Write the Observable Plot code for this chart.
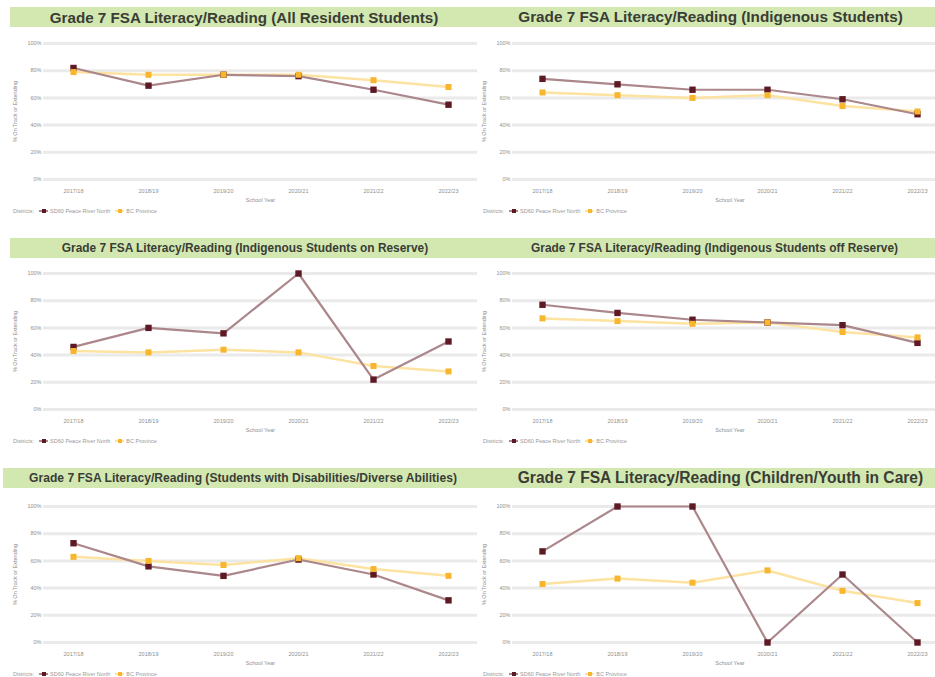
<!DOCTYPE html>
<html><head><meta charset="utf-8">
<script src="https://cdn.jsdelivr.net/npm/d3@7"></script>
<script src="https://cdn.jsdelivr.net/npm/@observablehq/plot@0.6"></script>
<style>
html,body{margin:0;padding:0;background:#fff}
body{width:935px;height:677px;overflow:hidden;position:relative;font-family:"Liberation Sans",Arial,sans-serif}
.bar{position:absolute;height:20px;background:#d3e8b1;display:flex;align-items:center;justify-content:center;font-weight:bold;color:#3a3d36;white-space:nowrap;box-sizing:border-box}
.chart{position:absolute}
.legend{position:absolute;font-size:5.5px;color:#999;white-space:nowrap;display:flex;align-items:center;gap:2px}
.sym{display:inline-block;position:relative;width:9px;height:6px;margin-left:3px}
.sym .ln{position:absolute;left:0;right:0;top:2px;height:2px}
.sym .sq{position:absolute;left:2.5px;top:1px;width:4px;height:4px}
</style>
</head><body>
<script>
const years = ["2017/18","2018/19","2019/20","2020/21","2021/22","2022/23"];
const yTicks = [0,20,40,60,80,100];

const titles = [
  "Grade 7 FSA Literacy/Reading (All Resident Students)",
  "Grade 7 FSA Literacy/Reading (Indigenous Students)",
  "Grade 7 FSA Literacy/Reading (Indigenous Students on Reserve)",
  "Grade 7 FSA Literacy/Reading (Indigenous Students off Reserve)",
  "Grade 7 FSA Literacy/Reading (Students with Disabilities/Diverse Abilities)",
  "Grade 7 FSA Literacy/Reading (Children/Youth in Care)"
];

const allDistrict    = [82, 69, 77, 76, 66, 55];
const allProvince    = [79, 77, 77, 77, 73, 68];
const indDistrict    = [74, 70, 66, 66, 59, 48];
const indProvince    = [64, 62, 60, 62, 54, 50];
const onResDistrict  = [46, 60, 56, 100, 22, 50];
const onResProvince  = [43, 42, 44, 42, 32, 28];
const offResDistrict = [77, 71, 66, 64, 62, 49];
const offResProvince = [67, 65, 63, 64, 57, 53];
const disDistrict    = [73, 56, 49, 61, 50, 31];
const disProvince    = [63, 60, 57, 62, 54, 49];
const careDistrict   = [67, 100, 100, 0, 50, 0];
const careProvince   = [43, 47, 44, 53, 38, 29];

const seriesNames = ["SD60 Peace River North", "BC Province"];
const legendLead = "Districts:";
const xLabel = "School Year";
const yLabel = "% On Track or Extending";

const districtLine = "#ab878b", districtDot = "#5e1a24";
const provinceLine = "#fde3a2", provinceDot = "#f8b52e";

const panels = [
  {d: allDistrict,    p: allProvince,    col: 0, row: 0, fs: 15.2, pad: 8},
  {d: indDistrict,    p: indProvince,    col: 1, row: 0, fs: 15.3, pad: 16},
  {d: onResDistrict,  p: onResProvince,  col: 0, row: 1, fs: 11.9, pad: 10},
  {d: offResDistrict, p: offResProvince, col: 1, row: 1, fs: 11.9, pad: 24},
  {d: disDistrict,    p: disProvince,    col: 0, row: 2, fs: 12.1, pad: 13},
  {d: careDistrict,   p: careProvince,   col: 1, row: 2, fs: 15.6, pad: 36}
];

// layout (page geometry only)
const rowBarTop = [7, 238, 468];
const rowPlotTop = [29, 259, 492];
const colBar = [[10, 460], [470, 465]];
const colBarRow3Left = [3, 467];
const colSvgLeft = [0, 470];
const colMarginLeft = [43, 42];

panels.forEach((pn, i) => {
  const bar = document.createElement("div");
  bar.className = "bar";
  const [bx, bw] = (pn.row === 2 && pn.col === 0) ? colBarRow3Left : colBar[pn.col];
  bar.style.left = bx + "px";
  bar.style.width = bw + "px";
  bar.style.top = rowBarTop[pn.row] + "px";
  bar.style.fontSize = pn.fs + "px";
  bar.style.paddingLeft = pn.pad + "px";
  bar.textContent = titles[i];
  document.body.appendChild(bar);

  const rows = years.map((y, k) => ({year: y, value: pn.d[k], series: seriesNames[0]}));
  const prow = years.map((y, k) => ({year: y, value: pn.p[k], series: seriesNames[1]}));

  const chart = Plot.plot({
    width: 477,
    height: 180,
    marginTop: 14,
    marginBottom: 30,
    marginLeft: colMarginLeft[pn.col],
    marginRight: 0,
    style: {fontFamily: "'Liberation Sans', Arial, sans-serif", fontSize: "5.5px", color: "#8f8f8f", background: "transparent", overflow: "visible"},
    x: {type: "point", domain: years, padding: 0.38},
    y: {domain: [0, 100]},
    marks: [
      Plot.ruleY(yTicks, {stroke: "#eaeaea", strokeWidth: 3}),
      Plot.axisY({ticks: yTicks, tickSize: 0, tickPadding: 2, tickFormat: d => d + "%", label: yLabel, labelAnchor: "center", labelArrow: "none", labelOffset: 30}),
      Plot.axisX({tickSize: 0, tickPadding: 10, label: xLabel, labelAnchor: "center", labelArrow: "none", labelOffset: 22}),
      Plot.line(prow, {x: "year", y: "value", stroke: provinceLine, strokeWidth: 2.5}),
      Plot.line(rows, {x: "year", y: "value", stroke: districtLine, strokeWidth: 2.2}),
      Plot.dot(rows, {x: "year", y: "value", symbol: "square", r: 3.6, fill: districtDot, stroke: "none"}),
      Plot.dot(prow, {x: "year", y: "value", symbol: "square", r: 3.4, fill: provinceDot, stroke: "none"})
    ]
  });
  chart.classList.add("chart");
  chart.style.left = colSvgLeft[pn.col] + "px";
  chart.style.top = rowPlotTop[pn.row] + "px";
  document.body.appendChild(chart);

  const lg = document.createElement("div");
  lg.className = "legend";
  lg.style.left = (colSvgLeft[pn.col] + 13) + "px";
  lg.style.top = (rowPlotTop[pn.row] + 179) + "px";
  lg.innerHTML = `<span>${legendLead}</span>` +
    `<span class="sym"><span class="ln" style="background:${districtLine}"></span><span class="sq" style="background:${districtDot}"></span></span><span>${seriesNames[0]}</span>` +
    `<span class="sym"><span class="ln" style="background:${provinceLine}"></span><span class="sq" style="background:${provinceDot}"></span></span><span>${seriesNames[1]}</span>`;
  document.body.appendChild(lg);
});
</script>
</body></html>
